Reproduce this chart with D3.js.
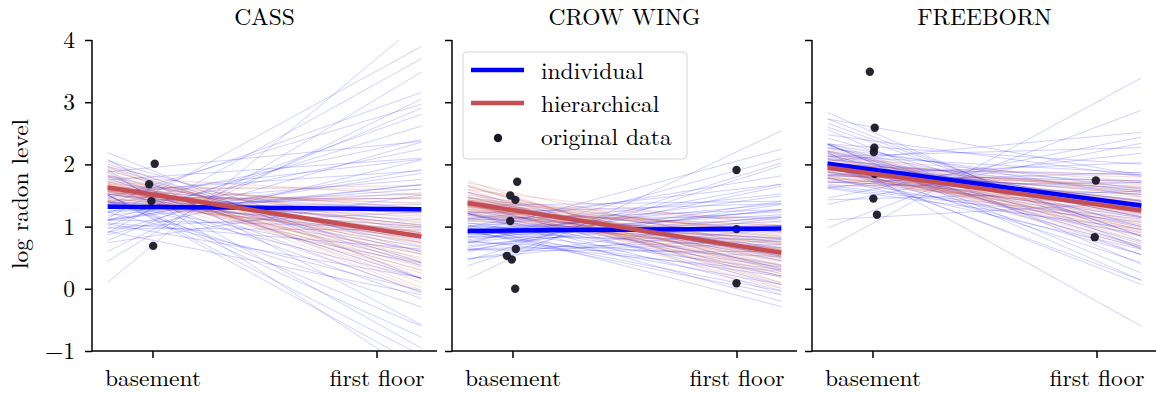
<!DOCTYPE html>
<html>
<head>
<meta charset="utf-8">
<script src="https://cdn.jsdelivr.net/npm/d3@7"></script>
<style>
  body { margin: 0; background: #fff; }
  svg text { font-family: "Latin Modern Roman", "CMU Serif", "DejaVu Serif", serif; fill: #000; }
</style>
</head>
<body>
<div id="chart"></div>
<script>
// 县名与 x 轴刻度
const counties = ['CASS', 'CROW WING', 'FREEBORN'];
const floorLabels = ['basement', 'first floor'];
const yTicks = [-1, 0, 1, 2, 3, 4];
const legendLabels = ['individual', 'hierarchical', 'original data'];

// 均值回归线：地下室 / 一楼 的 log radon
const indivMeanBasement = [1.314, 0.936, 1.915];
const indivMeanFloor = [1.286, 0.964, 1.436];
const hierMeanBasement = [1.517, 1.266, 1.851];
const hierMeanFloor = [0.953, 0.694, 1.358];

// 后验样本线（individual）
const indivSampleBasement = [
  [1.32, 1.05, 1.61, 1.20, 1.45, 0.88, 1.74, 1.28, 1.38, 1.12, 1.55, 0.97, 1.67, 1.24, 1.41, 1.16, 1.50, 1.02, 1.85, 1.30, 1.35, 0.78, 1.59, 1.09, 1.47, 1.19, 1.90, 1.27, 1.36, 1.00,
   1.42, 1.08, 1.70, 1.22, 0.92, 1.53, 1.33, 1.14, 1.80, 1.26, 0.85, 1.62, 1.39, 1.04, 1.48, 1.18, 1.95, 1.31, 0.70, 1.57, 1.25, 1.44, 1.11, 1.66, 1.34, 0.95, 1.52, 1.21, 1.78, 1.29],
  [0.93, 0.72, 1.15, 0.85, 1.02, 0.60, 1.26, 0.90, 0.97, 0.78, 1.10, 0.66, 1.20, 0.88, 1.00, 0.81, 1.07, 0.55, 1.32, 0.92, 0.95, 0.70, 1.13, 0.83, 1.04, 0.76, 1.38, 0.89, 0.99, 0.64,
   0.98, 0.75, 1.18, 0.86, 0.62, 1.08, 0.94, 0.80, 1.24, 0.89, 0.58, 1.12, 0.96, 0.73, 1.05, 0.84, 1.35, 0.91, 0.50, 1.09, 0.87, 1.01, 0.77, 1.16, 0.95, 0.68, 1.06, 0.82, 1.28, 0.90],
  [1.92, 1.65, 2.20, 1.80, 2.05, 1.50, 2.35, 1.88, 1.97, 1.72, 2.13, 1.58, 2.28, 1.84, 2.01, 1.76, 2.10, 1.15, 2.45, 1.25, 1.94, 1.62, 2.17, 1.78, 2.03, 1.69, 2.52, 1.86, 1.99, 1.55,
   2.00, 1.70, 2.25, 1.82, 1.52, 2.12, 1.93, 1.75, 2.38, 1.87, 1.45, 2.15, 1.96, 1.66, 2.07, 1.80, 2.60, 1.91, 1.05, 2.09, 1.85, 2.02, 1.73, 2.22, 1.95, 1.60, 2.06, 1.79, 2.40, 1.89]
];
const indivSampleFloor = [
  [2.40, 0.15, 1.85, -0.30, 1.10, 3.05, 0.60, 1.55, 2.10, -0.85, 1.30, 0.95, 2.75, 0.35, 1.70, -0.05, 2.25, 1.20, 0.80, 3.30, 1.45, 0.05, 2.00, 1.00, -0.55, 1.60, 0.45, 2.55, 1.15, 0.70,
   0.90, 2.60, -0.20, 1.75, 0.30, 3.50, 1.25, -0.70, 2.05, 0.55, 1.40, 2.90, 0.10, 1.90, 0.75, -0.45, 2.30, 1.05, 3.70, 0.40, 1.60, -0.95, 2.15, 0.85, 1.35, 2.70, 0.20, 1.80, 0.65, 1.50],
  [1.40, 0.55, 1.15, 0.20, 0.85, 1.75, 0.65, 1.05, 1.30, 0.05, 0.95, 0.75, 1.60, 0.40, 1.20, 0.30, 1.45, 0.90, 0.60, 1.90, 1.00, 0.35, 1.25, 0.80, 0.15, 1.10, 0.50, 1.55, 0.98, 0.70,
   0.80, 1.50, 0.25, 1.20, 0.60, 2.05, 1.00, 0.10, 1.35, 0.70, 1.05, 1.70, 0.45, 1.25, 0.85, -0.10, 1.40, 0.95, 2.20, 0.50, 1.10, 0.00, 1.30, 0.75, 1.15, 1.80, 0.35, 1.20, 0.65, 1.00],
  [1.85, 1.00, 1.60, 0.65, 1.30, 2.20, 1.10, 1.50, 1.75, 0.40, 1.40, 1.20, 2.05, 0.85, 1.65, 0.75, 1.90, 1.35, 1.05, 2.60, 1.45, 0.80, 1.70, 1.25, 0.55, 1.55, 0.95, 2.00, 1.42, 1.15,
   1.30, 2.10, 0.70, 1.75, 1.05, 2.45, 1.45, 0.35, 1.90, 1.15, 1.55, 2.25, 0.90, 1.70, 1.35, -0.20, 1.95, 1.40, 3.00, 0.95, 1.60, 0.45, 1.85, 1.20, 1.50, 2.30, 0.80, 1.65, 1.10, 1.45]
];

// 后验样本线（hierarchical）
const hierSampleBasement = [
  [1.52, 1.40, 1.65, 1.47, 1.58, 1.33, 1.71, 1.50, 1.55, 1.44, 1.62, 1.37, 1.76, 1.49, 1.54, 1.42, 1.60, 1.30, 1.68, 1.51, 1.46, 1.57, 1.39, 1.63, 1.53, 1.45, 1.81, 1.48, 1.56, 1.35,
   1.50, 1.41, 1.63, 1.46, 1.36, 1.59, 1.53, 1.43, 1.70, 1.48, 1.32, 1.61, 1.55, 1.39, 1.57, 1.45, 1.78, 1.51, 1.28, 1.60, 1.47, 1.54, 1.42, 1.66, 1.52, 1.38, 1.58, 1.44, 1.73, 1.49],
  [1.27, 1.15, 1.40, 1.22, 1.33, 1.08, 1.46, 1.25, 1.30, 1.19, 1.37, 1.12, 1.51, 1.24, 1.29, 1.17, 1.35, 1.05, 1.43, 1.26, 1.21, 1.32, 1.14, 1.38, 1.28, 1.20, 1.55, 1.23, 1.31, 1.10,
   1.26, 1.18, 1.38, 1.22, 1.13, 1.34, 1.28, 1.20, 1.45, 1.24, 1.09, 1.36, 1.30, 1.16, 1.32, 1.21, 1.50, 1.27, 1.04, 1.35, 1.23, 1.29, 1.19, 1.41, 1.27, 1.14, 1.33, 1.21, 1.47, 1.25],
  [1.85, 1.75, 1.96, 1.80, 1.90, 1.69, 2.02, 1.83, 1.88, 1.78, 1.93, 1.72, 2.06, 1.82, 1.87, 1.76, 1.92, 1.66, 1.99, 1.84, 1.81, 1.89, 1.74, 1.95, 1.86, 1.79, 2.09, 1.83, 1.88, 1.71,
   1.86, 1.78, 1.97, 1.81, 1.73, 1.93, 1.87, 1.80, 2.04, 1.84, 1.68, 1.94, 1.89, 1.76, 1.91, 1.82, 2.12, 1.85, 1.63, 1.96, 1.83, 1.88, 1.77, 2.00, 1.86, 1.72, 1.92, 1.81, 2.07, 1.84]
];
const hierSampleFloor = [
  [0.60, 1.25, 0.90, 1.45, 0.40, 1.05, 0.75, 1.30, 0.95, 0.20, 1.15, 0.85, 1.55, 0.50, 1.00, 0.70, 1.35, 0.95, 0.30, 1.10, 0.80, 1.20, 0.65, 1.60, 0.90, 0.45, 1.05, 1.40, 0.55, 0.98,
   1.00, 0.55, 1.35, 0.80, 1.20, 0.35, 0.95, 1.50, 0.65, 1.10, 0.90, 0.25, 1.25, 0.70, 1.40, 0.85, 0.45, 1.15, 0.95, 1.65, 0.60, 1.05, 0.75, 1.30, 0.50, 1.00, 0.88, 1.45, 0.68, 1.08],
  [0.45, 0.90, 0.65, 1.05, 0.30, 0.78, 0.55, 0.95, 0.70, 0.20, 0.85, 0.62, 1.10, 0.38, 0.74, 0.50, 0.98, 0.69, 0.25, 0.82, 0.58, 0.88, 0.48, 1.15, 0.66, 0.35, 0.77, 1.00, 0.42, 0.71,
   0.72, 0.40, 0.95, 0.58, 0.85, 0.28, 0.68, 1.02, 0.50, 0.80, 0.64, 0.15, 0.90, 0.52, 0.98, 0.61, 0.33, 0.83, 0.70, 1.12, 0.46, 0.76, 0.56, 0.93, 0.38, 0.73, 0.63, 1.05, 0.48, 0.79],
  [1.10, 1.55, 1.30, 1.70, 0.95, 1.45, 1.20, 1.62, 1.36, 0.85, 1.50, 1.28, 1.78, 1.05, 1.40, 1.15, 1.65, 1.35, 0.90, 1.48, 1.25, 1.58, 1.12, 1.82, 1.33, 1.00, 1.43, 1.68, 1.08, 1.38,
   1.40, 1.05, 1.62, 1.22, 1.52, 0.88, 1.35, 1.72, 1.15, 1.48, 1.30, 0.78, 1.58, 1.18, 1.68, 1.27, 0.98, 1.50, 1.37, 1.85, 1.10, 1.44, 1.20, 1.64, 1.02, 1.39, 1.32, 1.75, 1.13, 1.46]
];

// 原始数据点：楼层（0 地下室 / 1 一楼，带少量抖动）与数值
const pointsX = [
  [0.01, -0.015, -0.005, 0.003],
  [0.021, -0.01, 0.013, -0.01, 0.015, -0.025, -0.003, 0.012, 1, 1, 1],
  [-0.012, 0.01, 0.008, 0.006, 0.01, 0.004, 0.02, 0.997, 0.992]
];
const pointsY = [
  [2.01, 1.68, 1.41, 0.69],
  [1.72, 1.50, 1.43, 1.09, 0.64, 0.53, 0.47, 0.00, 1.91, 0.96, 0.09],
  [3.49, 2.59, 2.27, 2.20, 1.85, 1.45, 1.19, 1.74, 0.83]
];

// 颜色
const blue = '#0000ff';
const red = '#c44e52';
const dotColor = '#1a1826';

// 布局
const W = 1156, H = 393;
const panelLeft = [92, 452, 812];
const panelWidth = 345;
const plotTop = 40, plotBottom = 351;
const fontSize = 23.5;

const svg = d3.select('#chart').append('svg')
  .attr('width', W)
  .attr('height', H);

const y = d3.scaleLinear().domain([-1, 4]).range([plotBottom, plotTop]);

// 直线在 [-0.2, 1.2] 上的端点
function lineEnds(b, f) {
  return [[-0.2, b - 0.2 * (f - b)], [1.2, b + 1.2 * (f - b)]];
}

counties.forEach((name, p) => {
  const x = d3.scaleLinear().domain([-0.27, 1.27]).range([panelLeft[p], panelLeft[p] + panelWidth]);
  const g = svg.append('g');

  const clipId = 'clip' + p;
  g.append('clipPath').attr('id', clipId)
    .append('rect')
    .attr('x', panelLeft[p]).attr('y', plotTop)
    .attr('width', panelWidth).attr('height', plotBottom - plotTop);

  const plot = g.append('g').attr('clip-path', `url(#${clipId})`);
  const line = d3.line().x(d => x(d[0])).y(d => y(d[1]));

  // 样本线：交替绘制 individual 与 hierarchical
  indivSampleBasement[p].forEach((b, i) => {
    plot.append('path')
      .attr('d', line(lineEnds(b, indivSampleFloor[p][i])))
      .attr('stroke', blue).attr('stroke-width', 1)
      .attr('stroke-opacity', 0.19).attr('fill', 'none');
    plot.append('path')
      .attr('d', line(lineEnds(hierSampleBasement[p][i], hierSampleFloor[p][i])))
      .attr('stroke', red).attr('stroke-width', 1)
      .attr('stroke-opacity', 0.2).attr('fill', 'none');
  });

  // 数据点
  plot.selectAll('circle')
    .data(pointsY[p])
    .enter()
    .append('circle')
    .attr('cx', (d, i) => x(pointsX[p][i]))
    .attr('cy', d => y(d))
    .attr('r', 4.2)
    .attr('fill', dotColor)
    .attr('fill-opacity', 0.95);

  // 均值线
  plot.append('path')
    .attr('d', line(lineEnds(indivMeanBasement[p], indivMeanFloor[p])))
    .attr('stroke', blue).attr('stroke-width', 4.5).attr('fill', 'none');
  plot.append('path')
    .attr('d', line(lineEnds(hierMeanBasement[p], hierMeanFloor[p])))
    .attr('stroke', red).attr('stroke-width', 4.5).attr('fill', 'none');

  // 坐标轴
  const yAxis = d3.axisLeft(y).tickValues(yTicks).tickSize(7).tickPadding(10)
    .tickFormat(p === 0 ? (d => d < 0 ? '\u2212' + Math.abs(d) : d) : '');
  const ya = g.append('g').attr('transform', `translate(${panelLeft[p]},0)`).call(yAxis);
  const xAxis = d3.axisBottom(x).tickValues([0, 1]).tickSize(7).tickPadding(11)
    .tickFormat((d, i) => floorLabels[i]);
  const xa = g.append('g').attr('transform', `translate(0,${plotBottom})`).call(xAxis);

  [ya, xa].forEach(a => {
    a.attr('font-family', null).attr('font-size', null);
    a.select('.domain').attr('stroke', '#000').attr('stroke-width', 1.5);
    a.selectAll('.tick line').attr('stroke', '#000').attr('stroke-width', 1.5);
    a.selectAll('text').attr('font-size', fontSize).style('fill', '#000');
  });
  ya.select('.domain').attr('d', `M0,${plotTop}V${plotBottom}`);
  xa.select('.domain').attr('d', `M${panelLeft[p]},0H${panelLeft[p] + panelWidth}`);

  // 标题
  g.append('text')
    .attr('x', panelLeft[p] + panelWidth / 2)
    .attr('y', 25)
    .attr('text-anchor', 'middle')
    .attr('font-size', fontSize)
    .text(name);
});

// y 轴标题
svg.append('text')
  .attr('transform', 'translate(28,194) rotate(-90)')
  .attr('text-anchor', 'middle')
  .attr('font-size', fontSize)
  .text('log radon level');

// 图例
const lg = svg.append('g');
lg.append('rect')
  .attr('x', 463).attr('y', 52).attr('width', 224).attr('height', 107)
  .attr('rx', 4).attr('fill', '#fff').attr('fill-opacity', 0.8)
  .attr('stroke', '#d6d6d6').attr('stroke-width', 1);
[blue, red].forEach((c, i) => {
  lg.append('line')
    .attr('x1', 471).attr('x2', 524)
    .attr('y1', 70 + i * 33).attr('y2', 70 + i * 33)
    .attr('stroke', c).attr('stroke-width', 4.5);
});
lg.append('circle').attr('cx', 498).attr('cy', 138).attr('r', 4.2).attr('fill', dotColor);
legendLabels.forEach((t, i) => {
  lg.append('text')
    .attr('x', 541).attr('y', 79 + i * 33)
    .attr('font-size', fontSize)
    .text(t);
});
</script>
</body>
</html>
